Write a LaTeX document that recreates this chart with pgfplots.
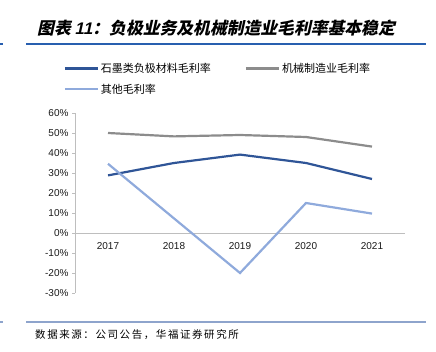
\documentclass[border=0pt]{standalone}
\usepackage{pgfplots}
\pgfplotsset{compat=1.18}
\usepackage{fontspec}
\setmainfont{Liberation Sans}
\newfontfamily\cjk{Noto Sans CJK SC}
\newfontfamily\titlefont[FakeSlant=0.22]{Noto Sans CJK SC}
\newfontfamily\titlelatin[FakeSlant=0.22]{Liberation Sans}
\definecolor{dblue}{RGB}{47,85,151}
\definecolor{lgrey}{RGB}{140,140,140}
\definecolor{lblue}{RGB}{143,170,220}
\definecolor{tline}{RGB}{40,95,175}
\definecolor{fline}{RGB}{142,164,204}
\definecolor{axgrey}{RGB}{190,190,190}
\begin{document}
\begin{tikzpicture}
\path[use as bounding box] (0pt,0pt) rectangle (436pt,352pt);
% title
\node[anchor=west,inner sep=0pt] at (37pt,324pt) {\fontsize{16.8}{18}\selectfont\titlefont\bfseries 图表 {\titlelatin\bfseries 11}：负极业务及机械制造业毛利率基本稳定};
\draw[tline,line width=1.4pt] (26pt,308pt) -- (426pt,308pt);
\draw[tline,line width=1.4pt] (0pt,308pt) -- (3pt,308pt);
% footer
\draw[fline,line width=1.4pt] (26pt,30pt) -- (426pt,30pt);
\draw[fline,line width=1.4pt] (0pt,30pt) -- (3pt,30pt);
\node[anchor=west,inner sep=0pt] at (35pt,17pt) {\fontsize{10.5}{12}\selectfont\cjk\addfontfeature{LetterSpace=15} 数据来源：公司公告，华福证券研究所};
\begin{axis}[
  at={(75pt,59pt)}, anchor=south west,
  scale only axis, width=330pt, height=180pt,
  xmin=-0.5, xmax=4.5, ymin=-30, ymax=60,
  axis x line*=middle, axis y line*=left,
  axis line style={axgrey, line width=0.8pt},
  xtick={0,1,2,3,4}, xticklabels={2017,2018,2019,2020,2021},
  x tick style={draw=none},
  ytick={-30,-20,...,60},
  y tick style={axgrey, line width=0.8pt},
  tick align=outside, major tick length=3pt,
  yticklabel={\pgfmathprintnumber{\tick}\%},
  /pgf/number format/assume math mode=true,
  tick label style={font=\fontsize{10}{12}\selectfont, text=black!90},
  xticklabel style={yshift=-3pt},
  clip=false,
  legend columns=2,
  legend style={at={(-0.035,1.29)}, anchor=north west, draw=none, fill=none, inner sep=0pt,
    font=\fontsize{11}{13}\selectfont\cjk, row sep=6pt,
    /tikz/every even column/.append style={column sep=32pt}},
  legend cell align=left,
  legend image code/.code={\draw[#1] (0pt,0pt) -- (33pt,0pt);},
]
\addplot[dblue, line width=2.2pt] coordinates {(0,28.8) (1,35) (2,39.2) (3,35) (4,27)};
\addlegendentry{石墨类负极材料毛利率}
\addplot[lgrey, line width=2.2pt] coordinates {(0,50) (1,48.3) (2,49) (3,48) (4,43.2)};
\addlegendentry{机械制造业毛利率}
\addplot[lblue, line width=2.2pt] coordinates {(0,34.6) (1,7.3) (2,-20) (3,15) (4,9.7)};
\addlegendentry{其他毛利率}
\end{axis}
\end{tikzpicture}
\end{document}
